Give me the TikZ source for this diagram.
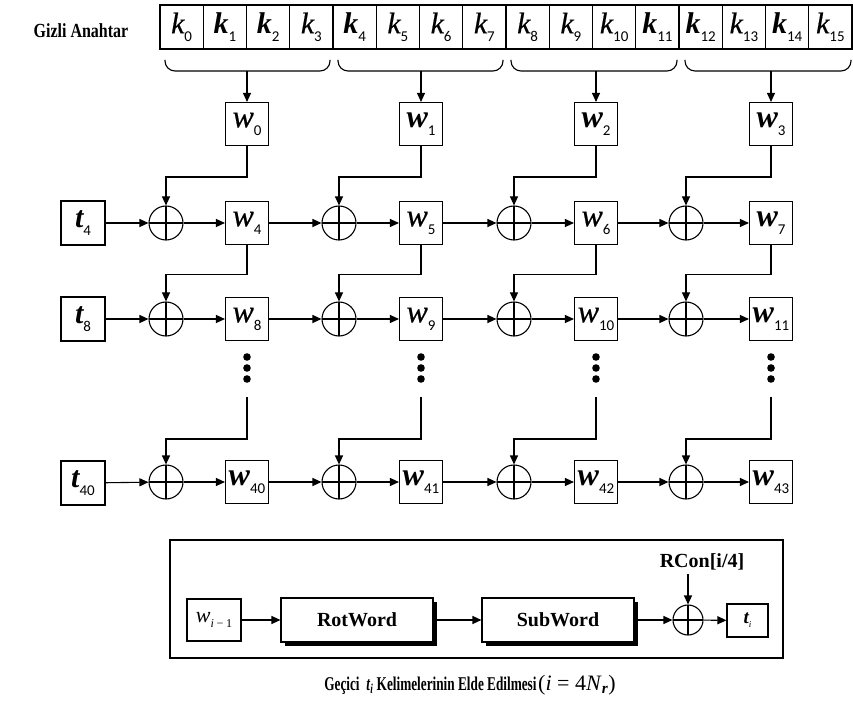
\documentclass[tikz,border=0pt]{standalone}
\usepackage{fontspec}
\setmainfont{Liberation Serif}
\newfontfamily\condA[FakeStretch=0.8]{Liberation Serif}
\newfontfamily\condB[FakeStretch=0.68]{Liberation Serif}
\newfontfamily\medf[FakeBold=0.5]{Liberation Serif}
\newfontfamily\subf{Carlito}
\usetikzlibrary{arrows.meta,shadows}
\newcommand\kw[3]{{\fontsize{30}{30}#3\itshape\selectfont #1}\raisebox{-8pt}{\subf\fontsize{15}{15}\selectfont #2}}
\newcommand\ww[3]{{\fontsize{32}{32}#3\itshape\selectfont #1}\raisebox{-8pt}{\subf\fontsize{15}{15}\selectfont #2}}
\begin{document}
\begin{tikzpicture}[x=1pt,y=-1pt,line width=1.1pt,
  arr/.style={-{Triangle[length=9pt,width=8pt]}},
  wbox/.style={draw,minimum width=43pt,minimum height=43pt,inner sep=0pt},
  kcell/.style={draw,minimum width=43.25pt,minimum height=44pt,inner sep=0pt},
  xor/.style={draw,circle,minimum size=34pt,inner sep=0pt,
    path picture={\draw[line width=1.1pt] (path picture bounding box.north) -- (path picture bounding box.south)
      (path picture bounding box.west) -- (path picture bounding box.east);}},
  rbox/.style={draw,fill=white,minimum width=152pt,minimum height=44pt,inner sep=0pt,
    font=\fontsize{20}{20}\selectfont\bfseries,
    drop shadow={shadow xshift=3.5pt,shadow yshift=-3.5pt,fill=black,opacity=1}},
  brace/.style={rounded corners=10pt}
]
\useasboundingbox (0,0) rectangle (853,708);

% key
\node[font=\condA\bfseries\fontsize{20}{20}\selectfont] (gizli) at (81,31) {Gizli Anahtar};
\foreach \i/\s in {0/\medf,1/\bfseries,2/\bfseries,3/\medf,4/\bfseries,5/\medf,6/\medf,7/\medf,8/\medf,9/\medf,10/\medf,11/\bfseries,12/\bfseries,13/\medf,14/\bfseries,15/\medf}
  \node[kcell] (k\i) at ({160+43.25*\i+21.625},27) {\kw{k}{\i}{\s}};

% braces
\foreach \g/\L/\R/\c in {0/165/330/247,1/338/503/421,2/511/677/596,3/685/851/771}{
  \draw[brace] (\L,60) -- (\L,71) -- (\R,71) -- (\R,60);
  \coordinate (b\g) at (\c,71);
}

% row 0
\foreach \c/\x/\s in {0/247/\medf,1/421/\bfseries,2/596/\bfseries,3/771/\bfseries}{
  \node[wbox] (w\c) at (\x,124) {\ww{w}{\c}{\s}};
  \draw[arr] (b\c) -- (w\c);
}

% t nodes
\node[wbox,minimum width=44pt,minimum height=44pt] (t4) at (83,223) {\kw{t}{4}{\bfseries}};
\node[wbox,minimum width=44pt,minimum height=44pt] (t8) at (83,319) {\kw{t}{8}{\bfseries}};
\node[wbox,minimum width=44pt,minimum height=44pt] (t40) at (83,483) {\kw{t}{40}{\bfseries}};

% rows 1,2,3 nodes
\foreach \c/\x/\xx/\sa/\sb in {0/247/166/\medf/\medf,1/421/339/\medf/\medf,2/596/514/\medf/\medf,3/771/686/\bfseries/\bfseries}{
  \pgfmathtruncatemacro\na{\c+4}
  \pgfmathtruncatemacro\nb{\c+8}
  \pgfmathtruncatemacro\nc{\c+40}
  \node[xor] (xa\c) at (\xx,223) {};
  \node[wbox] (w\na) at (\x,223) {\ww{w}{\na}{\sa}};
  \node[xor] (xb\c) at (\xx,319) {};
  \node[wbox] (w\nb) at (\x,319) {\ww{w}{\nb}{\sb}};
  \node[xor] (xc\c) at (\xx,482) {};
  \node[wbox] (w\nc) at (\x,482) {\ww{w}{\nc}{\bfseries}};
  \coordinate (d\c) at (\x,397);
  \foreach \y in {357,368,379} \fill (\x,\y) circle (3.8pt);
  \draw[arr] (w\c.south) -- ++(0,31) -| (xa\c.north);
  \draw[arr] (w\na.south) -- ++(0,29.5) -| (xb\c.north);
  \draw[arr] (d\c) -- ++(0,42) -| (xc\c.north);
  \draw[arr] (xa\c) -- (w\na);
  \draw[arr] (xb\c) -- (w\nb);
  \draw[arr] (xc\c) -- (w\nc);
}
\draw[arr] (t4) -- (xa0);
\draw[arr] (t8) -- (xb0);
\draw[arr] (t40) -- (xc0);
\foreach \c/\n/\m/\p in {0/4/8/40,1/5/9/41,2/6/10/42}{
  \pgfmathtruncatemacro\d{\c+1}
  \draw[arr] (w\n) -- (xa\d);
  \draw[arr] (w\m) -- (xb\d);
  \draw[arr] (w\p) -- (xc\d);
}

% bottom box
\node[draw,minimum width=613pt,minimum height=118pt,inner sep=0pt] (frame) at (476.5,599) {};
\node[draw,minimum width=54pt,minimum height=42pt,inner sep=0pt] (wi) at (214,620)
  {{\fontsize{22}{22}\selectfont\itshape w}\raisebox{-5pt}{\fontsize{12}{12}\selectfont\itshape i\,−\,\upshape 1}};
\node[rbox] (rot) at (357,620) {RotWord};
\node[rbox] (sub) at (558,620) {SubWord};
\node[xor,minimum size=30pt] (xs) at (688,620) {};
\node[draw,minimum width=41pt,minimum height=33pt,inner sep=0pt] (ti) at (747.5,620.5)
  {{\fontsize{19}{19}\selectfont\bfseries\itshape t}\raisebox{-4pt}{\fontsize{9}{9}\selectfont\itshape i}};
\node[font=\fontsize{20}{20}\selectfont\bfseries] (rcon) at (702,562) {RCon[i/4]};
\draw[arr] (wi) -- (rot);
\draw[arr] (rot) -- (sub);
\draw[arr] (sub) -- (xs);
\draw[arr] (xs) -- (ti);
\draw[arr] (xs.north |- rcon.south) -- (xs.north);

% caption
\node (cap) at (470,685) {{\condB\bfseries\fontsize{19.5}{19.5}\selectfont Geçici\ \ \textit{t}\textsubscript{\textit{i}} Kelimelerinin Elde Edilmesi}\,{\fontsize{22}{22}\selectfont(\textit{i} = 4\textit{N}\textsubscript{\textbf{\textit{r}}})}};
\end{tikzpicture}
\end{document}
